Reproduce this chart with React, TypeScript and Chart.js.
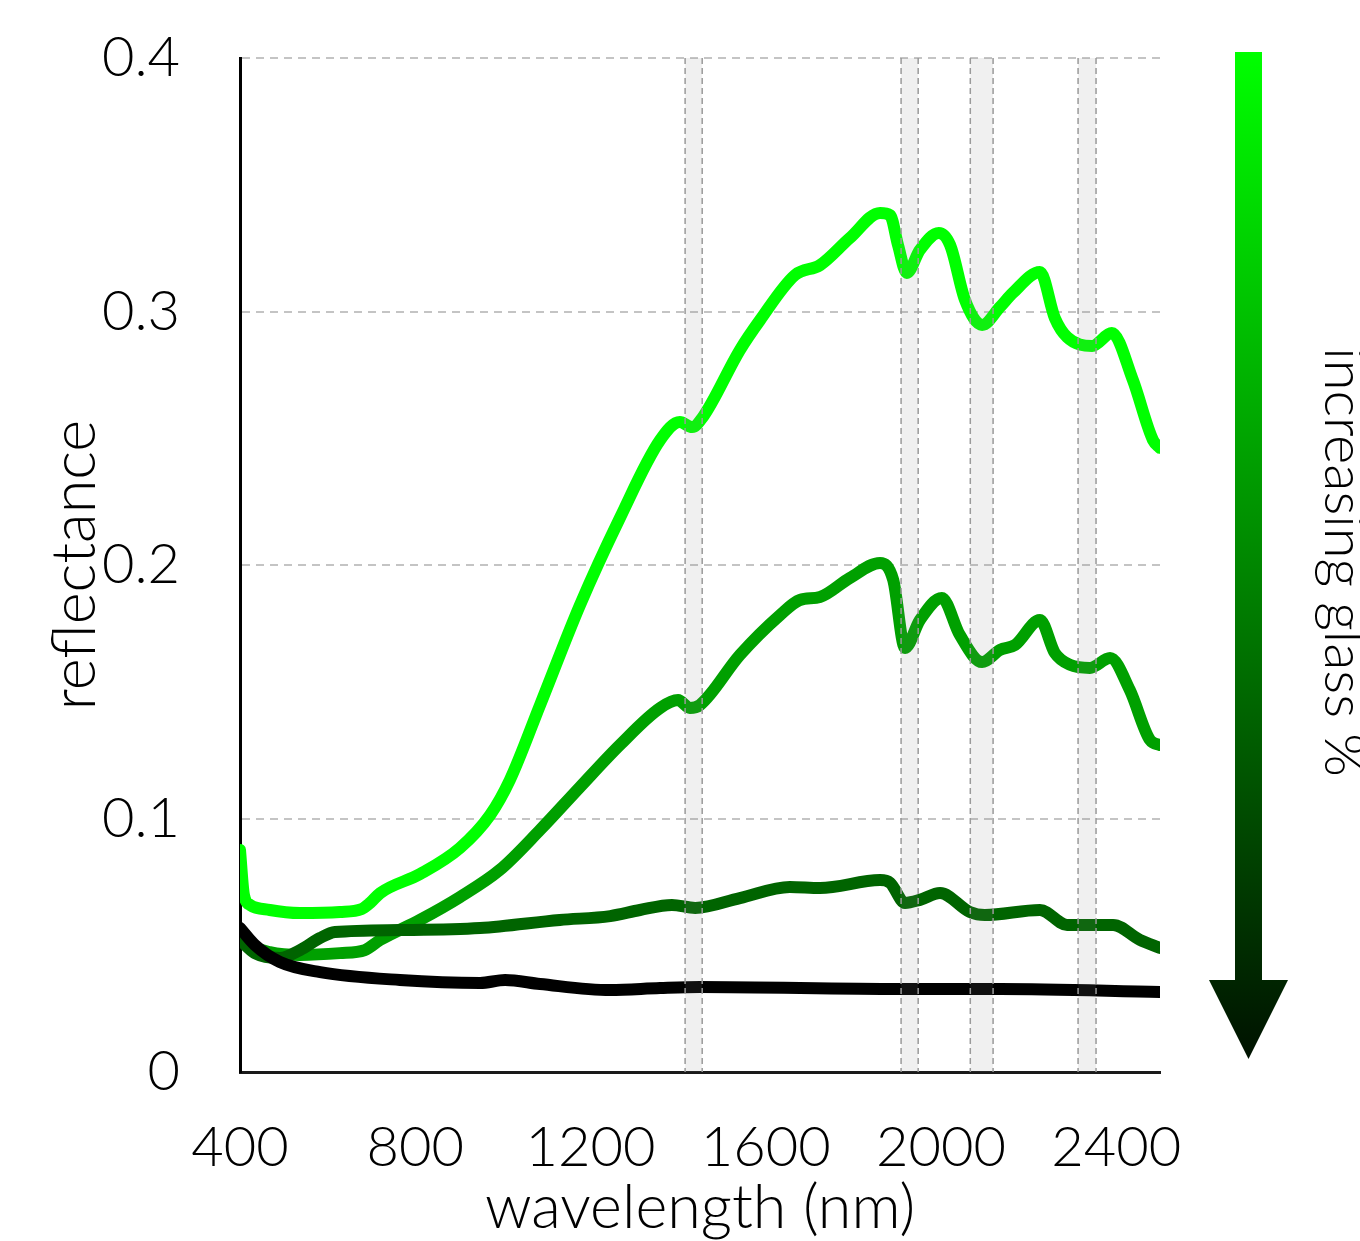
import React, { useEffect, useRef } from "react";
import { Chart, registerables } from "chart.js";

Chart.register(...registerables);

// ---- data ----
const xTicks = [400, 800, 1200, 1600, 2000, 2400];
const xTickLabels = ["400", "800", "1200", "1600", "2000", "2400"];
const yTicks = [0, 0.1, 0.2, 0.3, 0.4];
const yTickLabels = ["0", "0.1", "0.2", "0.3", "0.4"];
const xTitle = "wavelength (nm)";
const yTitle = "reflectance";
const barLabel = "increasing glass %";

// absorption bands (nm)
const bandStart = [1416, 1909, 2067, 2313];
const bandEnd = [1455, 1948, 2119, 2354];

const wlLow = [400, 409, 423, 468, 537, 628, 678, 697, 720, 811, 902, 971, 1016, 1085, 1176, 1267, 1359, 1404, 1432, 1455, 1541, 1587, 1667, 1724, 1792, 1861, 1884, 1902, 1922, 1952, 1995, 2021, 2055, 2094, 2135, 2164, 2226, 2260, 2288, 2345, 2390, 2438, 2484, 2500];
const rLow = [0.0876, 0.0698, 0.0659, 0.0639, 0.0627, 0.0631, 0.0643, 0.0667, 0.0706, 0.0781, 0.0884, 0.1014, 0.1152, 0.1448, 0.1842, 0.2185, 0.2493, 0.2564, 0.2544, 0.258, 0.2848, 0.2966, 0.3144, 0.3183, 0.329, 0.3389, 0.338, 0.3262, 0.3152, 0.3243, 0.331, 0.3262, 0.3045, 0.2947, 0.3018, 0.3073, 0.3156, 0.2974, 0.2899, 0.2864, 0.2915, 0.273, 0.2493, 0.2462];

const wlMid = [400, 423, 468, 537, 628, 685, 720, 811, 902, 993, 1085, 1176, 1267, 1359, 1400, 1427, 1450, 1541, 1633, 1678, 1724, 1792, 1861, 1891, 1918, 1952, 2002, 2043, 2094, 2135, 2169, 2226, 2260, 2295, 2340, 2386, 2431, 2477, 2500];
const rMid = [0.054, 0.0501, 0.0473, 0.0462, 0.0469, 0.0481, 0.0521, 0.06, 0.069, 0.0797, 0.0955, 0.1124, 0.129, 0.1436, 0.1467, 0.1436, 0.1448, 0.1645, 0.1803, 0.1862, 0.1874, 0.1949, 0.2008, 0.1941, 0.1673, 0.1783, 0.187, 0.1724, 0.1617, 0.1665, 0.1684, 0.1783, 0.1653, 0.1606, 0.1594, 0.1633, 0.1507, 0.131, 0.129];

const wlHigh = [400, 434, 491, 537, 583, 617, 765, 948, 1130, 1245, 1313, 1386, 1439, 1541, 1655, 1724, 1861, 1884, 1918, 1952, 1998, 2066, 2100, 2226, 2288, 2393, 2454, 2500];
const rHigh = [0.0521, 0.0469, 0.045, 0.0481, 0.0529, 0.0552, 0.056, 0.0568, 0.06, 0.0615, 0.0639, 0.0659, 0.0647, 0.0686, 0.073, 0.0726, 0.0757, 0.0746, 0.0667, 0.0679, 0.0706, 0.0631, 0.0619, 0.0639, 0.058, 0.058, 0.0521, 0.0489];

const wlGlass = [400, 434, 491, 583, 765, 948, 1005, 1085, 1245, 1359, 1450, 1907, 2135, 2500];
const rGlass = [0.0568, 0.0501, 0.0434, 0.0394, 0.0363, 0.0351, 0.0363, 0.0347, 0.0323, 0.0331, 0.0335, 0.0327, 0.0327, 0.0316];

const seriesColors = ["#00ff00", "#00a000", "#006400", "#000000"];

const FONT = "Lato, 'Open Sans', sans-serif";

const toPoints = (xs: number[], ys: number[]) => xs.map((x, i) => ({ x, y: ys[i] }));

const bandPlugin = {
  id: "bands",
  afterDatasetsDraw(chart: any) {
    const { ctx, chartArea, scales } = chart;
    const xs = scales.x;
    ctx.save();
    for (let i = 0; i < bandStart.length; i++) {
      const a = xs.getPixelForValue(bandStart[i]);
      const b = xs.getPixelForValue(bandEnd[i]);
      ctx.fillStyle = "rgba(133,133,133,0.12)";
      ctx.fillRect(a, chartArea.top, b - a, chartArea.bottom - chartArea.top);
      ctx.strokeStyle = "#9a9a9a";
      ctx.lineWidth = 1.5;
      ctx.setLineDash([6, 4]);
      for (const p of [a, b]) {
        ctx.beginPath();
        ctx.moveTo(p, chartArea.top);
        ctx.lineTo(p, chartArea.bottom);
        ctx.stroke();
      }
    }
    ctx.restore();
  },
};

const colorBarPlugin = {
  id: "colorbar",
  afterDraw(chart: any) {
    const { ctx } = chart;
    ctx.save();
    const top = 52;
    const tip = 1059;
    const grad = ctx.createLinearGradient(0, top, 0, tip);
    grad.addColorStop(0, "#00ff00");
    grad.addColorStop(1, "#001200");
    ctx.fillStyle = grad;
    ctx.beginPath();
    ctx.moveTo(1235, top);
    ctx.lineTo(1262, top);
    ctx.lineTo(1262, 980);
    ctx.lineTo(1288, 980);
    ctx.lineTo(1248.5, tip);
    ctx.lineTo(1209, 980);
    ctx.lineTo(1235, 980);
    ctx.closePath();
    ctx.fill();

    ctx.translate(1343, 562);
    ctx.rotate(Math.PI / 2);
    ctx.fillStyle = "#000";
    ctx.font = `300 56px ${FONT}`;
    ctx.textAlign = "center";
    ctx.textBaseline = "middle";
    ctx.fillText(barLabel, 0, 0);
    ctx.restore();
  },
};

export default function App() {
  const ref = useRef<HTMLCanvasElement | null>(null);
  useEffect(() => {
    if (!ref.current) return;
    const mk = (xs: number[], ys: number[], c: string, order: number) => ({
      data: toPoints(xs, ys),
      borderColor: c,
      backgroundColor: c,
      borderWidth: 12,
      pointRadius: 0,
      cubicInterpolationMode: "monotone" as const,
      borderCapStyle: "round" as const,
      borderJoinStyle: "round" as const,
      fill: false,
      order,
    });
    const chart = new Chart(ref.current, {
      type: "line",
      data: {
        datasets: [
          mk(wlLow, rLow, seriesColors[0], 3),
          mk(wlMid, rMid, seriesColors[1], 2),
          mk(wlHigh, rHigh, seriesColors[2], 1),
          mk(wlGlass, rGlass, seriesColors[3], 0),
        ],
      },
      options: {
        animation: false,
        responsive: false,
        maintainAspectRatio: false,
        layout: { padding: { left: 0, top: 58, right: 200, bottom: 0 } },
        plugins: { legend: { display: false }, tooltip: { enabled: false } },
        scales: {
          x: {
            type: "linear",
            min: 400,
            max: 2500,
            afterFit: (s: any) => {
              s.height = 169;
              s.paddingLeft = 0;
              s.paddingRight = 0;
            },
            afterBuildTicks: (s: any) => { s.ticks = xTicks.map((v) => ({ value: v })); },
            grid: { display: false, drawTicks: false },
            border: { display: true, color: "#1a1a1a", width: 3 },
            ticks: {
              padding: 42,
              color: "#000",
              font: { family: FONT, size: 56, weight: "300" as any },
              maxRotation: 0,
              autoSkip: false,
              callback: (_v: any, i: number) => xTickLabels[i],
            },
            title: {
              display: true,
              text: xTitle,
              color: "#000",
              font: { family: FONT, size: 61, weight: "300" as any, lineHeight: 1 },
              padding: { top: 0, bottom: 2 },
            },
          },
          y: {
            type: "linear",
            min: 0,
            max: 0.4,
            afterFit: (s: any) => {
              s.width = 240;
              s.paddingTop = 0;
              s.paddingBottom = 0;
            },
            afterBuildTicks: (s: any) => { s.ticks = yTicks.map((v) => ({ value: v })); },
            grid: {
              drawTicks: false,
              color: "#c4c4c4",
              lineWidth: 2,
            } as any,
            border: { display: true, color: "#000", width: 3, dash: [8, 6] } as any,
            ticks: {
              padding: 60,
              color: "#000",
              font: { family: FONT, size: 56, weight: "300" as any },
              callback: (_v: any, i: number) => yTickLabels[i],
            },
            title: {
              display: true,
              text: yTitle,
              color: "#000",
              font: { family: FONT, size: 61, weight: "300" as any, lineHeight: 1.2 },
              padding: { top: 39, bottom: 0 },
            },
          },
        },
      },
      plugins: [bandPlugin, colorBarPlugin],
    });
    return () => chart.destroy();
  }, []);
  return (
    <div style={{ position: "absolute", left: 0, top: 0, width: 1360, height: 1241, background: "#fff" }}>
      <canvas ref={ref} width={1360} height={1241} style={{ width: 1360, height: 1241, display: "block" }} />
    </div>
  );
}
